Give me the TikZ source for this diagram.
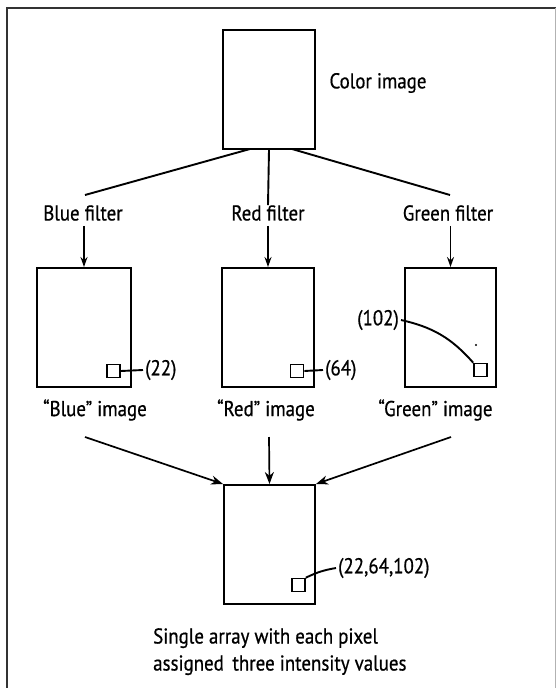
\documentclass[tikz,border=0pt]{standalone}
\usepackage{fontspec}
\setmainfont{PT Sans}[FakeStretch=0.88,FakeBold=0.6]
\usetikzlibrary{arrows.meta}
\begin{document}
\begin{tikzpicture}[x=1pt,y=-1pt,
  img/.style={draw,line width=2pt,inner sep=0pt,minimum width=92pt,minimum height=119pt},
  pix/.style={draw,line width=1.6pt,inner sep=0pt,minimum size=13pt},
  lbl/.style={inner sep=0pt,font=\fontsize{21.5}{24}\selectfont},
  conn/.style={line width=1.9pt},
  arr/.style={line width=1.7pt,-{Stealth[length=12pt,width=9pt]}},
  sarr/.style={line width=1.4pt,-{Stealth[length=10pt,width=7pt]}}]
\useasboundingbox (0,0) rectangle (556,688);
% frame
\draw[line width=1.8pt,black!80] (7,688) -- (7,8) -- (556,8);
\draw[line width=0.8pt,black!30] (555,8) -- (555,688);
% boxes
\node[img] (color) at (269,89.5) {};
\node[img,minimum width=94pt] (blue) at (84,327.5) {};
\node[img] (red) at (268,327.5) {};
\node[img,minimum width=91pt] (green) at (450.5,327.5) {};
\node[img,minimum width=91pt] (final) at (269.5,544.5) {};
% text
\node[lbl] (colorl) at (378,83) {Color image};
\node[lbl] (bluef) at (83,213) {Blue filter};
\node[lbl] (redf) at (268,213) {Red filter};
\node[lbl] (greenf) at (448,213) {Green filter};
\node[lbl] (bluel) at (95,410) {“Blue” image};
\node[lbl] (redl) at (266,410) {“Red” image};
\node[lbl] (greenl) at (435.5,410) {“Green” image};
% pixels
\node[pix] (bsq) at (113.5,371) {};
\node[pix] (rsq) at (297,371) {};
\node[pix] (gsq) at (480.5,370) {};
\node[pix] (fsq) at (298.5,585) {};
\node[lbl,anchor=west] (bval) at (145,370) {(22)};
\node[lbl,anchor=west] (rval) at (325,370) {(64)};
\node[lbl,anchor=east] (gval) at (399,320) {(102)};
\node[lbl,anchor=west] (fval) at (338,568) {(22,64,102)};
\node[lbl,align=left,anchor=north west,font=\fontsize{21.5}{27}\selectfont] (cap) at (153,628) {Single array with each pixel\\assigned\, three intensity values};
\fill (476,345) circle (1.2pt);
% connectors
\coordinate (cb1) at (250,149);
\coordinate (cb2) at (292,149);
\draw[conn] (cb1) -- (85,195);
\draw[conn] (color.south) -- (redf.north);
\draw[conn] (cb2) -- (450,195);
\draw[sarr] (bluef.south -| blue.north) ++(0,5) -- (blue.north);
\draw[sarr] (redf.south -| red.north) ++(0,5) -- (red.north);
\draw[sarr] (greenf.south -| green.north) ++(0,5) -- (green.north);
\draw[conn] (bsq.east) -- ([xshift=-2pt]bval.west);
\draw[conn] (rsq.east) -- ([xshift=-2pt]rval.west);
\draw[conn] (gsq.north west) to[bend right=18] ([xshift=2pt]gval.east);
\draw[conn] (fsq.north east) to[bend left=8] ([xshift=-2pt]fval.west);
\coordinate (ba) at (85,437);
\coordinate (ra) at (269,437);
\coordinate (ga) at (451,437);
\draw[arr] (ba) -- (final.north west);
\draw[arr] (ra) -- (final.north);
\draw[arr] (ga) -- (final.north east);
\end{tikzpicture}
\end{document}
